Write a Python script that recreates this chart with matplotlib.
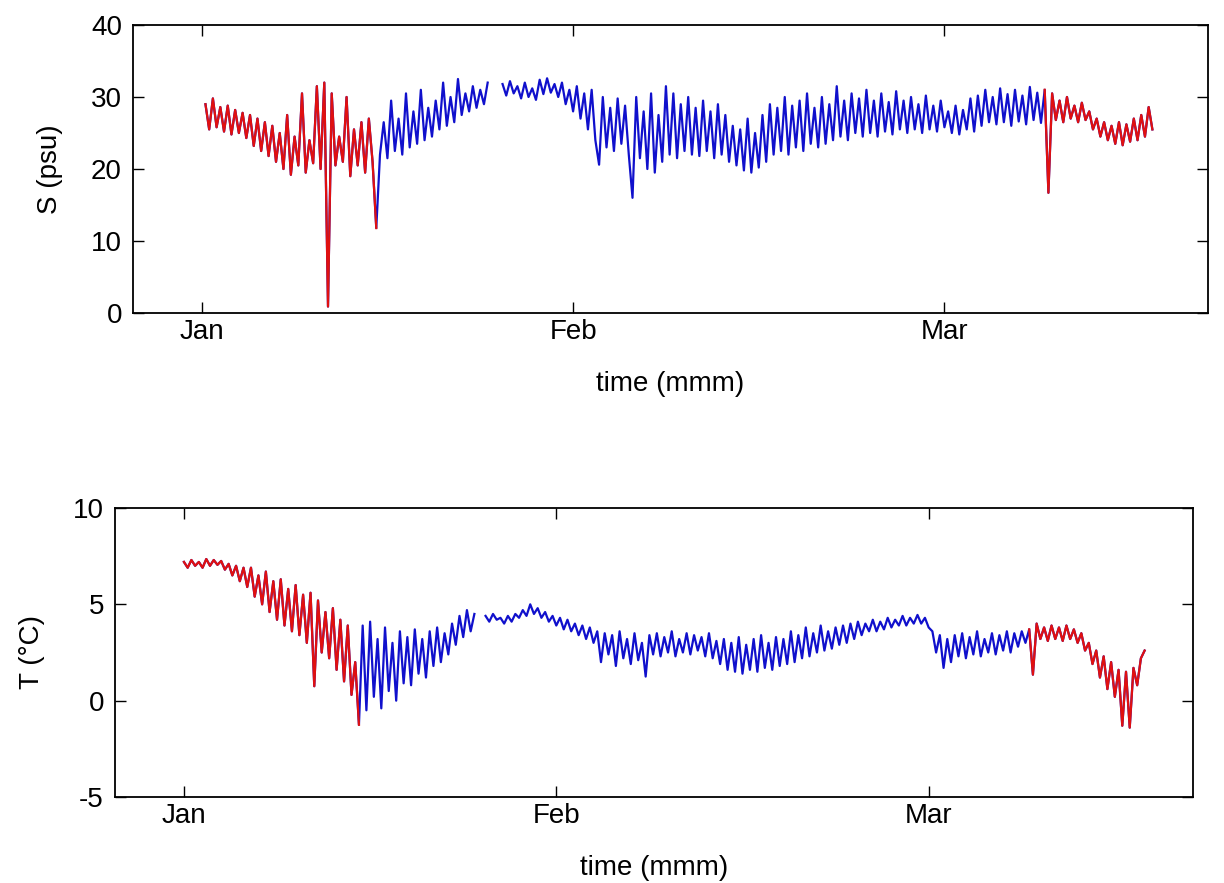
import numpy as np
import matplotlib
matplotlib.use('Agg')
import matplotlib.pyplot as plt

plt.rcParams['font.family'] = ['Liberation Sans', 'DejaVu Sans']
plt.rcParams['axes.unicode_minus'] = False

# time axis in days since the Jan tick, one sample every DT days
DT = 0.3
month_ticks  = [0, 30, 60]
month_labels = ['Jan', 'Feb', 'Mar']

# salinity (psu), two pieces either side of the data gap
S_start = [0.3, 24.3]
S_a = [29.0, 25.5, 29.8, 25.8, 28.6, 25.2, 28.8, 24.8, 28.2, 25.0,
       27.8, 24.3, 27.5, 23.2, 27.0, 22.5, 26.5, 21.8, 26.0, 21.0,
       25.0, 20.0, 27.5, 19.2, 24.5, 20.5, 30.5, 19.5, 24.0, 20.8,
       31.5, 20.0, 32.0, 0.9, 30.5, 20.5, 24.5, 21.0, 30.0, 19.0,
       25.5, 20.5, 26.5, 19.5, 27.0, 21.0, 11.8, 22.0, 26.5, 21.5,
       29.5, 22.5, 27.0, 22.0, 30.5, 23.0, 28.0, 23.5, 31.0, 24.0,
       28.5, 24.5, 29.5, 25.5, 32.0, 26.0, 30.0, 26.5, 32.5, 27.5,
       30.5, 28.0, 31.5, 28.5, 31.0, 29.0, 32.0]
S_b = [31.8, 30.2, 32.2, 30.5, 31.5, 29.8, 32.0, 30.0, 31.2, 29.6,
       32.4, 30.4, 32.6, 30.6, 31.8, 30.0, 32.0, 29.0, 31.0, 28.0,
       31.5, 27.0, 30.5, 25.5, 31.0, 24.0, 20.6, 30.0, 23.0, 28.5,
       22.5, 29.8, 23.5, 28.8, 22.0, 16.0, 30.0, 21.5, 28.0, 20.0,
       30.5, 19.5, 27.5, 21.0, 31.5, 22.0, 30.5, 21.5, 29.0, 22.5,
       30.0, 22.0, 28.5, 21.8, 29.5, 22.5, 28.0, 21.5, 29.0, 22.0,
       27.5, 21.0, 26.0, 20.5, 25.5, 19.8, 27.0, 19.5, 25.0, 20.2,
       27.5, 21.0, 29.0, 22.0, 28.5, 22.5, 30.0, 22.0, 28.8, 23.0,
       29.5, 22.5, 30.5, 23.5, 28.5, 23.0, 30.0, 23.5, 29.0, 24.0,
       31.5, 24.5, 29.5, 24.0, 30.5, 25.0, 29.8, 24.5, 31.0, 25.0,
       29.5, 24.5, 30.5, 25.2, 29.3, 24.8, 30.8, 25.5, 29.5, 25.0,
       30.0, 25.5, 29.0, 25.0, 30.2, 25.5, 28.8, 25.2, 29.5, 25.8,
       28.0, 25.0, 28.8, 24.8, 28.2, 25.5, 29.8, 25.2, 30.2, 26.0,
       31.0, 26.5, 30.0, 26.2, 31.2, 26.5, 30.4, 26.0, 31.0, 26.6,
       30.2, 26.2, 31.4, 26.8, 30.6, 26.4, 31.0, 16.7, 30.5, 26.8,
       29.5, 26.5, 30.0, 27.0, 28.8, 26.5, 29.2, 26.8, 28.0, 25.5,
       27.0, 24.5, 26.5, 24.0, 26.0, 23.5, 26.5, 23.3, 26.2, 23.8,
       27.0, 24.0, 27.5, 24.5, 28.6, 25.5]
S_red = [(0.0, 14.1), (68.1, 90.0)]

# temperature (deg C), same layout
T_start = [0.0, 24.3]
T_a = [7.2, 6.9, 7.3, 7.0, 7.2, 6.9, 7.35, 7.0, 7.3, 7.05,
       7.25, 6.8, 7.1, 6.5, 7.0, 6.2, 6.9, 5.9, 6.9, 5.4,
       6.5, 5.0, 6.7, 4.6, 6.2, 4.2, 6.3, 3.9, 5.8, 3.6,
       6.0, 3.4, 5.5, 3.0, 5.6, 0.75, 5.2, 2.5, 4.6, 2.2,
       4.8, 1.6, 4.2, 1.0, 3.9, 0.3, 2.0, -1.25, 3.9, -0.5,
       4.1, 0.2, 3.2, -0.4, 3.8, 0.5, 3.0, 0.0, 3.6, 0.9,
       3.3, 0.8, 3.7, 1.4, 3.2, 1.2, 3.6, 1.8, 3.8, 2.0,
       3.5, 2.4, 4.0, 2.9, 4.4, 3.3, 4.7, 3.6, 4.5]
T_b = [4.4, 4.1, 4.5, 4.2, 4.3, 4.0, 4.4, 4.1, 4.5, 4.3,
       4.7, 4.4, 5.0, 4.5, 4.8, 4.3, 4.6, 4.1, 4.4, 3.9,
       4.3, 3.7, 4.2, 3.6, 4.0, 3.4, 3.9, 3.2, 3.8, 3.0,
       3.6, 2.0, 3.5, 2.4, 3.4, 1.8, 3.6, 2.2, 3.2, 1.9,
       3.5, 2.1, 3.0, 1.25, 3.4, 2.4, 3.5, 2.3, 3.3, 2.5,
       3.6, 2.3, 3.2, 2.5, 3.5, 2.4, 3.4, 2.6, 3.3, 2.3,
       3.5, 2.2, 3.1, 1.9, 3.2, 1.6, 3.0, 1.5, 3.3, 1.4,
       2.9, 1.6, 3.2, 1.5, 3.4, 1.7, 3.0, 1.6, 3.3, 1.8,
       3.2, 1.9, 3.6, 2.0, 3.4, 2.2, 3.8, 2.3, 3.5, 2.5,
       3.9, 2.6, 3.6, 2.7, 3.8, 2.9, 3.9, 3.0, 4.0, 3.2,
       4.1, 3.4, 4.0, 3.6, 4.2, 3.6, 4.1, 3.7, 4.3, 3.8,
       4.2, 3.9, 4.4, 3.9, 4.3, 4.0, 4.45, 4.0, 4.3, 3.8,
       3.6, 2.5, 3.4, 1.7, 3.2, 2.0, 3.4, 2.3, 3.5, 2.2,
       3.3, 2.4, 3.6, 2.3, 3.2, 2.5, 3.5, 2.4, 3.4, 2.6,
       3.6, 2.5, 3.5, 2.8, 3.6, 3.0, 3.7, 1.35, 4.0, 3.2,
       3.8, 3.1, 3.9, 3.2, 3.8, 3.1, 3.9, 3.2, 3.7, 3.0,
       3.5, 2.6, 3.0, 1.9, 2.6, 1.2, 2.3, 0.6, 2.0, 0.2,
       1.6, -1.3, 1.5, -1.4, 1.7, 0.8, 2.2, 2.6]
T_red = [(0.0, 14.1), (68.1, 90.0)]

BLUE = '#1010cc'
RED = '#e01010'


def draw(ax, starts, pieces, red_spans):
    for t0, vals in zip(starts, pieces):
        y = np.array(vals)
        t = t0 + DT * np.arange(len(y))
        ax.plot(t, y, color=BLUE, lw=1.6)
        for a, b in red_spans:
            m = (t >= a - 1e-6) & (t <= b + 1e-6)
            if m.any():
                ax.plot(t[m], y[m], color=RED, lw=1.6)


def style(ax):
    ax.set_xlim(-5.55, 81.3)
    ax.set_xticks(month_ticks)
    ax.set_xticklabels(month_labels)
    ax.tick_params(direction='in', length=8, width=1, top=True, right=True, labelsize=20)
    ax.tick_params(axis='x', pad=4)
    ax.tick_params(axis='y', pad=8)
    for sp in ax.spines.values():
        sp.set_linewidth(1.3)
    ax.set_xlabel('time (mmm)', fontsize=20, labelpad=19)


fig = plt.figure(figsize=(12.24, 8.83), dpi=100)
ax1 = fig.add_axes([0.1087, 0.6455, 0.8783, 0.3262])
ax2 = fig.add_axes([0.094, 0.0974, 0.8807, 0.3273])

draw(ax1, S_start, [S_a, S_b], S_red)
style(ax1)
ax1.set_ylim(0, 40)
ax1.set_yticks([0, 10, 20, 30, 40])
ax1.set_ylabel('S (psu)', fontsize=20, labelpad=20)

draw(ax2, T_start, [T_a, T_b], T_red)
style(ax2)
ax2.set_ylim(-5, 10)
ax2.set_yticks([-5, 0, 5, 10])
ax2.set_ylabel('T (°C)', fontsize=20, labelpad=20)

fig.savefig('out.png', dpi=100)
